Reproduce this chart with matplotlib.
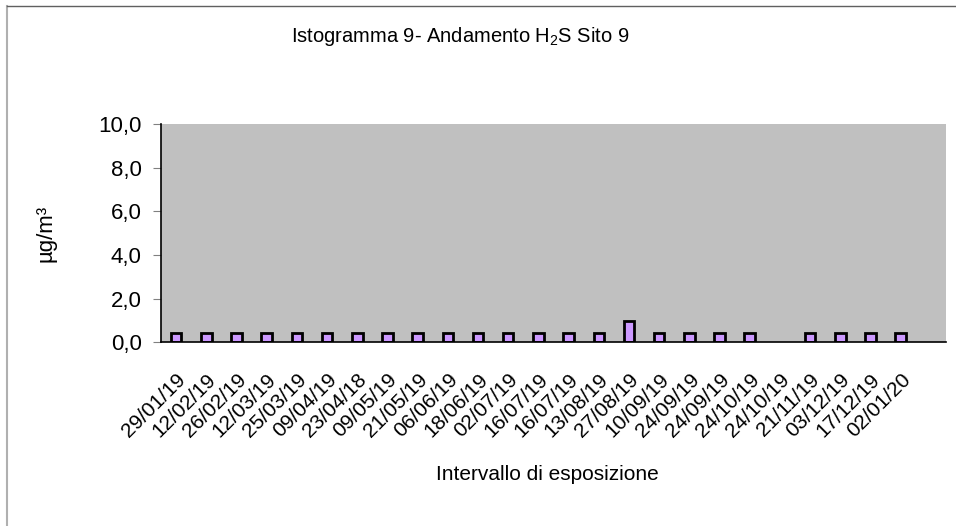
import numpy as np
import matplotlib
matplotlib.use("Agg")
import matplotlib.pyplot as plt
from matplotlib.ticker import FuncFormatter

plt.rcParams['font.family'] = ['Liberation Sans', 'DejaVu Sans']
plt.rcParams['mathtext.fontset'] = 'custom'
plt.rcParams['mathtext.rm'] = 'Liberation Sans'
plt.rcParams['mathtext.it'] = 'Liberation Sans'

# date di esposizione (ultima categoria vuota come nel grafico originale)
date = ["29/01/19", "12/02/19", "26/02/19", "12/03/19", "25/03/19", "09/04/19",
        "23/04/18", "09/05/19", "21/05/19", "06/06/19", "18/06/19", "02/07/19",
        "16/07/19", "16/07/19", "13/08/19", "27/08/19", "10/09/19", "24/09/19",
        "24/09/19", "24/10/19", "24/10/19", "21/11/19", "03/12/19", "17/12/19",
        "02/01/20", ""]
# concentrazioni H2S (ug/m3), nan = dato mancante
h2s = [0.4, 0.4, 0.4, 0.4, 0.4, 0.4, 0.4, 0.4, 0.4, 0.4, 0.4, 0.4,
       0.4, 0.4, 0.4, 0.95, 0.4, 0.4, 0.4, 0.4, np.nan, 0.4, 0.4, 0.4,
       0.4, np.nan]

fig = plt.figure(figsize=(9.56, 5.26), dpi=100)
W, H = 956, 526

# cornice esterna del grafico
fig.add_artist(plt.Line2D([7/W, 7/W], [0, 1 - 6/H], color='#b0b0b0', lw=1.5))
fig.add_artist(plt.Line2D([7/W, 1], [1 - 6/H, 1 - 6/H], color='#606060', lw=1.0))

ax = fig.add_axes([161/W, 1 - 342/H, (946 - 161)/W, (342 - 124.5)/H])
ax.set_facecolor('#C0C0C0')

x = np.arange(len(date))
ax.bar(x, h2s, width=0.35, color='#CC99FF', edgecolor='black', linewidth=2.0)

ax.set_xlim(-0.5, len(date) - 0.5)
ax.set_ylim(0, 10)
ax.set_yticks(np.arange(0, 10.1, 2))
ax.yaxis.set_major_formatter(FuncFormatter(lambda v, p: ('%.1f' % v).replace('.', ',')))
ax.tick_params(axis='y', labelsize=16, length=6, color='#808080', pad=8)
ax.set_xticks(x)
ax.set_xticklabels(date, rotation=45, ha='right', va='top', rotation_mode='anchor', fontsize=15)
ax.tick_params(axis='x', length=0, pad=20)

for s in ['top', 'right']:
    ax.spines[s].set_visible(False)
ax.spines['left'].set_color('black')
ax.spines['bottom'].set_color('black')
ax.spines['left'].set_linewidth(1.2)
ax.spines['bottom'].set_linewidth(1.2)

fig.text(460/W, 1 - 37/H, 'Istogramma 9- Andamento H$_2$S Sito 9', ha='center', va='center', fontsize=14.5)
fig.text(46/W, 1 - 233/H, 'µg/m³', rotation=90, ha='center', va='center', fontsize=16)
fig.text(547/W, 1 - 475/H, 'Intervallo di esposizione', ha='center', va='center', fontsize=15)

plt.savefig('out.png', dpi=100)
